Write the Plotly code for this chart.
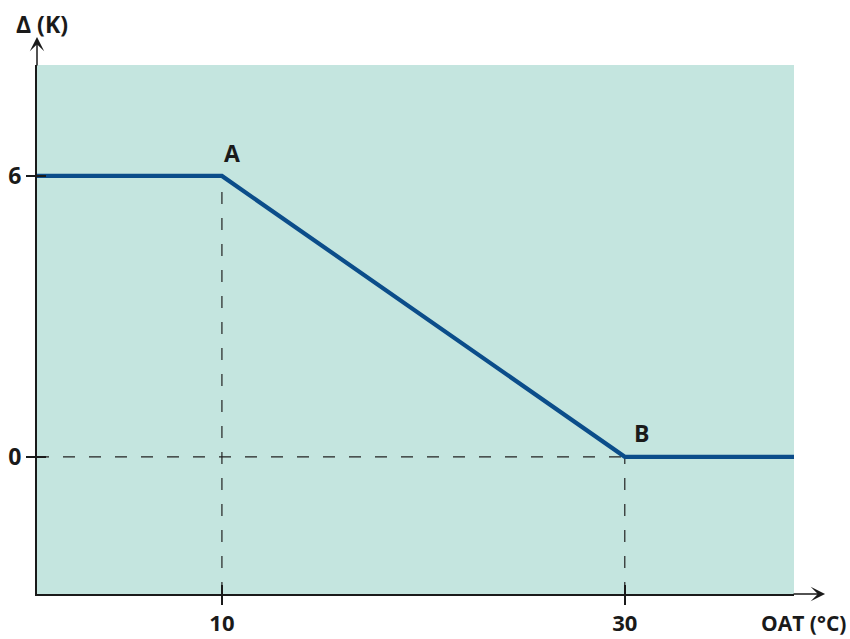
import plotly.graph_objects as go

# Data
oat = [0.82, 10, 30, 38.4]          # outside air temperature (°C)
delta = [6, 6, 0, 0]                # Δ (K)
x_ticks = [10, 30]
y_ticks = [0, 6]
points = [("A", 10, 6), ("B", 30, 0)]

x_range = [0.82, 38.4]
y_range = [-2.93, 8.37]

FONT = "Open Sans"
DARK = "#1a1a1a"
LINE = "#0b4d8a"
FS = 23

fig = go.Figure()

dash = dict(color="#222", width=1.2, dash="12px,14px")
fig.add_trace(go.Scatter(x=[10, 10], y=[y_range[0], 6], mode="lines", line=dash,
                         hoverinfo="skip", showlegend=False))
fig.add_trace(go.Scatter(x=[30, 30], y=[y_range[0], 0], mode="lines", line=dash,
                         hoverinfo="skip", showlegend=False))
fig.add_trace(go.Scatter(x=[x_range[0], 30], y=[0, 0], mode="lines", line=dash,
                         hoverinfo="skip", showlegend=False))

fig.add_trace(go.Scatter(x=oat, y=delta, mode="lines",
                         line=dict(color=LINE, width=4.2),
                         hoverinfo="skip", showlegend=False))

fig.add_trace(go.Scatter(x=[x_range[0]], y=[y_range[0]], xaxis="x2", yaxis="y2",
                         mode="markers", marker=dict(opacity=0),
                         hoverinfo="skip", showlegend=False))

tickfont = dict(family=FONT, size=FS, color=DARK, weight="bold")
xtickfont = dict(family=FONT, size=22, color=DARK, weight="bold")

fig.update_layout(
    width=850, height=639,
    margin=dict(l=37, r=56, t=65, b=45),
    paper_bgcolor="white",
    plot_bgcolor="#c4e5df",
    xaxis=dict(range=x_range, tickvals=x_ticks, ticks="outside", ticklen=9,
               tickwidth=2, tickcolor=DARK, showgrid=False, zeroline=False,
               showline=True, linecolor=DARK, linewidth=2, tickfont=xtickfont,
               ticklabelstandoff=0, automargin=False),
    yaxis=dict(range=y_range, tickvals=y_ticks, ticks="outside", ticklen=9,
               tickwidth=2, tickcolor=DARK, showgrid=False, zeroline=False,
               showline=True, linecolor=DARK, linewidth=2, tickfont=tickfont,
               ticklabelstandoff=0, automargin=False),
    xaxis2=dict(range=x_range, overlaying="x", tickvals=x_ticks, ticks="inside",
                ticklen=9, tickwidth=2, tickcolor=DARK, showticklabels=False,
                showgrid=False, zeroline=False, showline=False, side="bottom",
                automargin=False),
    yaxis2=dict(range=y_range, overlaying="y", tickvals=y_ticks, ticks="inside",
                ticklen=9, tickwidth=2, tickcolor=DARK, showticklabels=False,
                showgrid=False, zeroline=False, showline=False, side="left",
                automargin=False),
)

shifts = {"A": (10, 23), "B": (17, 24)}
for name, px, py in points:
    fig.add_annotation(x=px, y=py, text=name, showarrow=False,
                       xshift=shifts[name][0], yshift=shifts[name][1],
                       font=dict(family=FONT, size=FS, color=DARK, weight="bold"))

fig.add_annotation(xref="paper", yref="paper", x=0, y=1.053, ax=0, ay=30,
                   showarrow=True, arrowhead=3, arrowsize=1.6, arrowwidth=1.5,
                   arrowcolor=DARK, text="")
fig.add_annotation(xref="paper", yref="paper", x=1.041, y=0, ax=-33, ay=0,
                   showarrow=True, arrowhead=3, arrowsize=1.6, arrowwidth=1.5,
                   arrowcolor=DARK, text="")

fig.add_annotation(xref="paper", yref="paper", x=0.0066, y=1.0775,
                   text="Δ (K)", showarrow=False, xanchor="center", yanchor="middle",
                   font=dict(family=FONT, size=FS, color=DARK, weight="bold"))
fig.add_annotation(xref="paper", yref="paper", x=1.0713, y=-0.054,
                   text="OAT (°C)", showarrow=False, xanchor="right", yanchor="middle",
                   font=dict(family=FONT, size=21, color=DARK, weight="bold"))

fig.write_html("out.html", config={"displayModeBar": False},
               post_script="document.body.style.margin='0';document.body.style.overflow='hidden';")
